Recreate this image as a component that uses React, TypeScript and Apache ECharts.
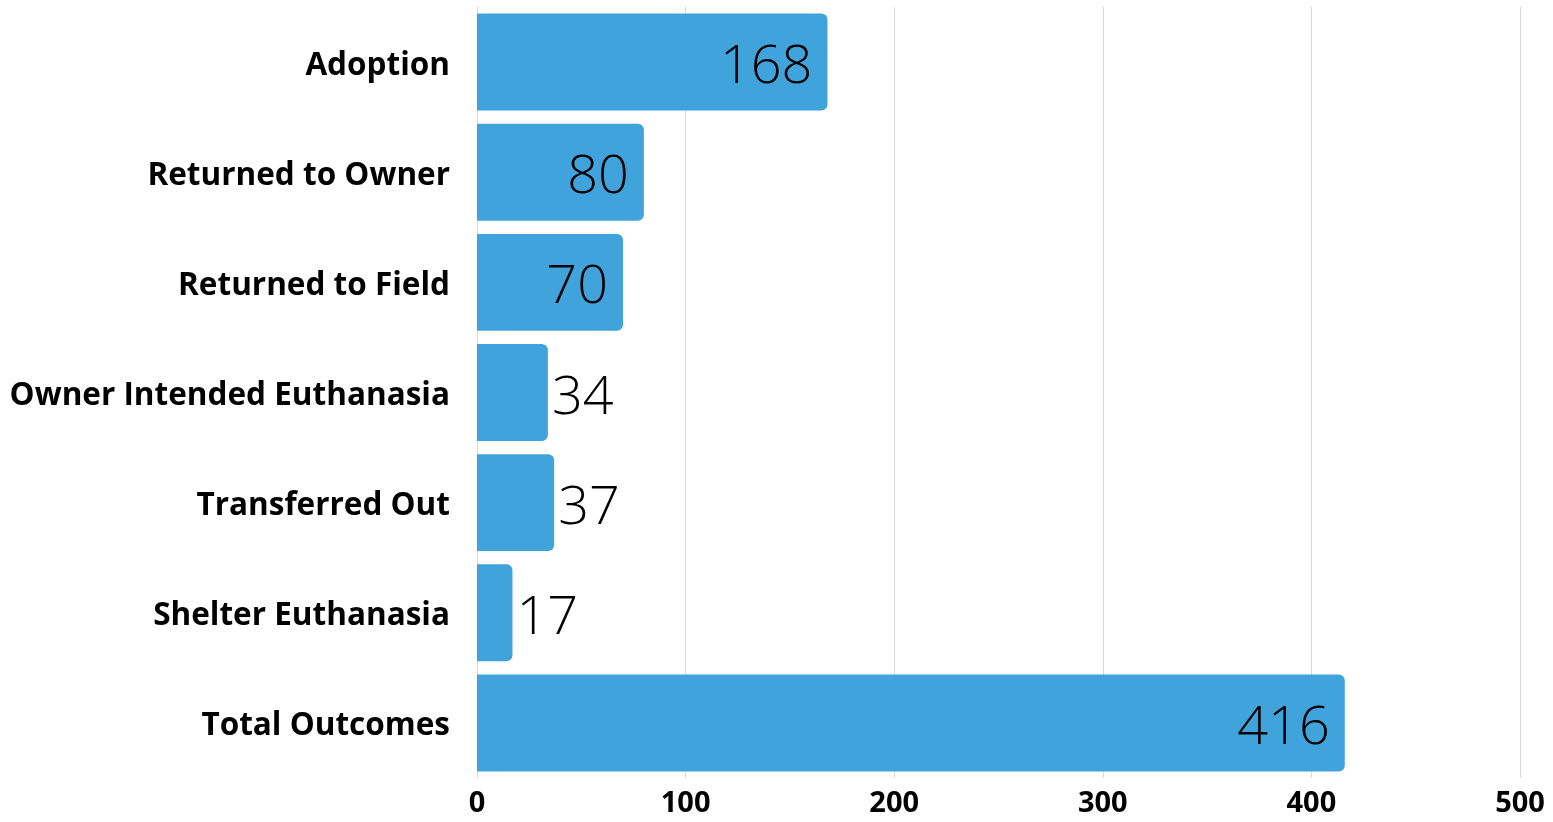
import React, { useEffect, useRef } from "react";
import * as echarts from "echarts";

const categories = [
  "Adoption",
  "Returned to Owner",
  "Returned to Field",
  "Owner Intended Euthanasia",
  "Transferred Out",
  "Shelter Euthanasia",
  "Total Outcomes",
];
const values = [168, 80, 70, 34, 37, 17, 416];
const xTicks = [0, 100, 200, 300, 400, 500];

export default function App() {
  const ref = useRef<HTMLDivElement>(null);
  useEffect(() => {
    if (!ref.current) return;
    const chart = echarts.init(ref.current, null, { renderer: "svg" });
    chart.setOption({
      animation: false,
      grid: { left: 477, right: 33, top: 7, bottom: 44, containLabel: false },
      xAxis: {
        type: "value",
        min: xTicks[0],
        max: xTicks[xTicks.length - 1],
        interval: 100,
        axisLine: { show: false },
        axisTick: { show: false },
        splitLine: { show: true, lineStyle: { color: "#d9d9d9", width: 1 } },
        axisLabel: {
          color: "#000",
          fontFamily: "Open Sans",
          fontWeight: "bold",
          fontSize: 29,
          lineHeight: 29,
          margin: 8,
        },
      },
      yAxis: {
        type: "category",
        inverse: true,
        data: categories,
        axisLine: { show: true, lineStyle: { color: "#d9d9d9", width: 1 } },
        axisTick: { show: false },
        axisLabel: {
          color: "#000",
          fontFamily: "Open Sans",
          fontWeight: "bold",
          fontSize: 31.5,
          margin: 27,
        },
      },
      series: [
        {
          type: "bar",
          barCategoryGap: "12%",
          data: values.map((v) => ({
            value: v,
            label: {
              show: true,
              position: v < 50 ? "right" : "insideRight",
              distance: v < 50 ? 4 : 15,
            },
          })),
          itemStyle: { color: "#40a3db", borderRadius: [0, 6, 6, 0] },
          label: {
            show: true,
            color: "#000",
            fontFamily: "Open Sans",
            fontWeight: 300,
            fontSize: 54,
          },
        },
      ],
    });
    return () => chart.dispose();
  }, []);
  return (
    <div
      ref={ref}
      style={{ position: "fixed", left: 0, top: 0, width: 1553, height: 822 }}
    />
  );
}
